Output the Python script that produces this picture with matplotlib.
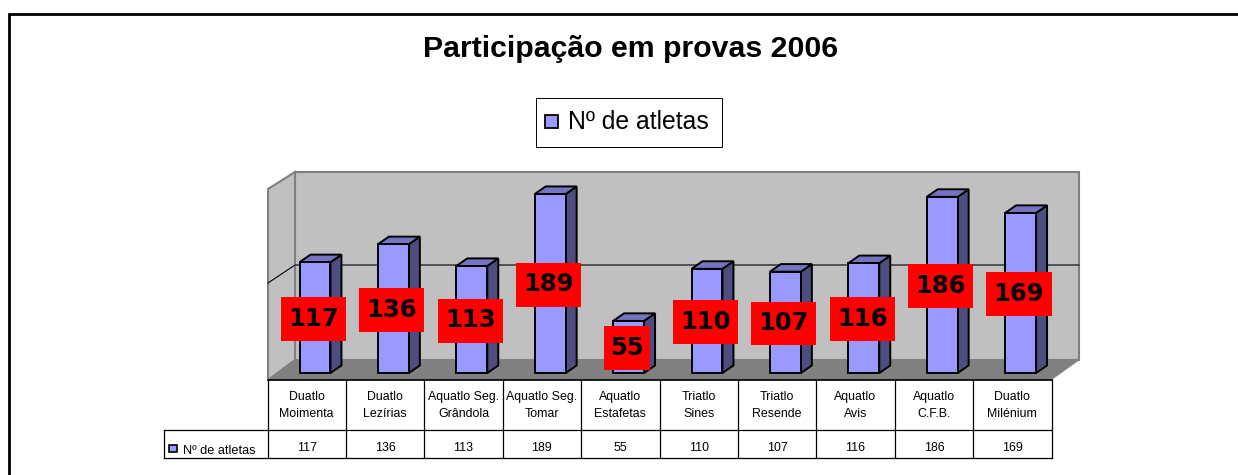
import matplotlib
matplotlib.use('Agg')
import matplotlib.pyplot as plt
from matplotlib.patches import Polygon, Rectangle

plt.rcParams['font.family'] = ['Liberation Sans', 'DejaVu Sans']

title = 'Participação em provas 2006'
series_name = 'Nº de atletas'
categories = ['Duatlo\nMoimenta', 'Duatlo\nLezírias', 'Aquatlo Seg.\nGrândola',
              'Aquatlo Seg.\nTomar', 'Aquatlo\nEstafetas', 'Triatlo\nSines',
              'Triatlo\nResende', 'Aquatlo\nAvis', 'Aquatlo\nC.F.B.', 'Duatlo\nMilénium']
athletes = [117, 136, 113, 189, 55, 110, 107, 116, 186, 169]

FRONT = '#9999FF'
TOP = '#7474C0'
SIDE = '#4D4D80'
WALL = '#C0C0C0'
FLOOR = '#808080'

W, H = 1238, 475
fig = plt.figure(figsize=(W / 100, H / 100), dpi=100, facecolor='white')

# background axes in pixels, for the frame, walls and table
bg = fig.add_axes([0, 0, 1, 1])
bg.set_xlim(0, W)
bg.set_ylim(H, 0)
bg.axis('off')

# outer frame, open on the right
bg.plot([9, 9, W], [H, 13.5, 13.5], color='black', lw=2, solid_joinstyle='miter')

bg.text(630.5, 49, title, ha='center', va='center', fontsize=21.8, fontweight='bold')

# legend
bg.add_patch(Rectangle((535.5, 97.5), 186, 49, fc='white', ec='black', lw=0.7))
bg.add_patch(Rectangle((544.5, 114.5), 13, 13, fc=FRONT, ec='black', lw=1.3))
bg.text(568, 122, series_name, ha='left', va='center', fontsize=17.8)

# 3d walls
bg.add_patch(Polygon([(295, 172), (1079, 172), (1079, 360), (295, 360)], fc=WALL, ec=FLOOR, lw=1.5))
bg.add_patch(Polygon([(268, 189), (295, 172), (295, 360), (268, 380)], fc=WALL, ec=FLOOR, lw=1.5))
bg.add_patch(Polygon([(268, 380), (295, 360), (1079, 360), (1051, 380)], fc=FLOOR, ec=FLOOR, lw=0.5))
bg.plot([268, 295, 1079], [283, 265, 265], color='black', lw=0.8)

# table under the chart
col0, col_w = 267.5, 78.4
for i in range(11):
    x = col0 + col_w * i
    bg.plot([x, x], [380, 458], color='black', lw=0.9)
bg.plot([268, 1051.5], [380, 380], color='black', lw=1.2)
bg.plot([164, 1051.5], [430, 430], color='black', lw=0.9)
bg.plot([164, 1051.5], [458, 458], color='black', lw=0.9)
bg.plot([164, 164], [430, 458], color='black', lw=0.9)
bg.add_patch(Rectangle((168.5, 445), 8, 7, fc=FRONT, ec='black', lw=1.2))
bg.text(183, 451, series_name, ha='left', va='center', fontsize=9.2)
for i, (cat, val) in enumerate(zip(categories, athletes)):
    cx = col0 + col_w * (i + 0.5)
    bg.text(cx, 405.5, cat, ha='center', va='center', fontsize=8.9, linespacing=1.6)
    bg.text(cx, 448, str(val), ha='center', va='center', fontsize=8.9)

# bars: y axis is the value, x axis is the category index
left, right = 275.8, 1059.8
bottom, top = 373, 183.6
ax = fig.add_axes([left / W, 1 - bottom / H, (right - left) / W, (bottom - top) / H])
ax.set_xlim(-0.5, 9.5)
ax.set_ylim(0, 200)
ax.axis('off')
ax.patch.set_alpha(0)

bar_w = 0.395
dx = 0.14
dy = 8
for i, v in enumerate(athletes):
    l, r = i - bar_w / 2, i + bar_w / 2
    ax.add_patch(Polygon([(r, 0), (r + dx, dy), (r + dx, v + dy), (r, v)],
                         fc=SIDE, ec='black', lw=1.4, clip_on=False))
    ax.add_patch(Polygon([(l, v), (l + dx, v + dy), (r + dx, v + dy), (r, v)],
                         fc=TOP, ec='black', lw=1.4, clip_on=False))
ax.bar(range(len(athletes)), athletes, width=bar_w, color=FRONT, edgecolor='black',
       linewidth=1.4, clip_on=False)

# red data labels
for i, v in enumerate(athletes):
    label = str(v)
    w = 0.83 if len(label) == 3 else 0.59
    ax.add_patch(Rectangle((i - 0.02 - w / 2, v / 2 - 24.4), w, 46.4, fc='#FF0000', ec='none',
                           clip_on=False, zorder=5))
    ax.text(i - 0.02, v / 2 - 1, label, ha='center', va='center', fontsize=17.5, fontweight='bold',
            family='DejaVu Sans', zorder=6, clip_on=False)

fig.savefig('out.png', dpi=100)
